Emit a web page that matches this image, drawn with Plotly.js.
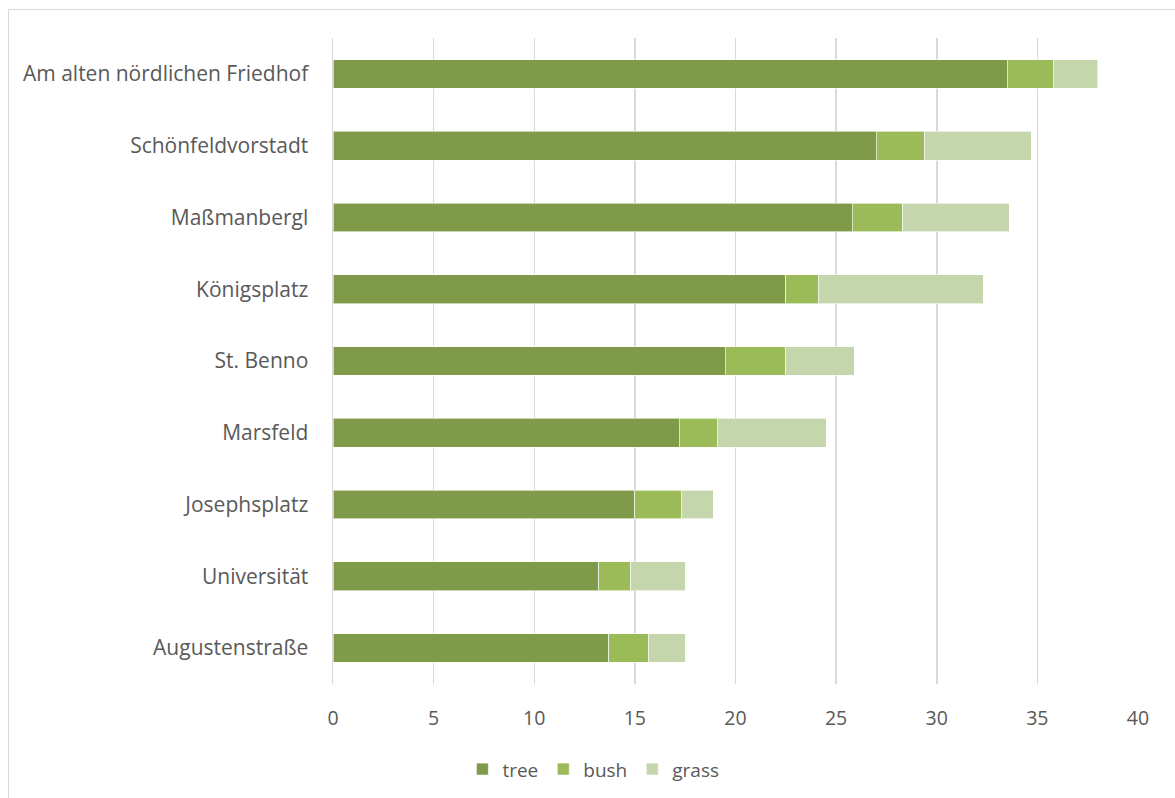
<!DOCTYPE html>
<html>
<head>
<meta charset="utf-8">
<script src="https://cdn.plot.ly/plotly-3.0.1.min.js"></script>
<style>
html,body{margin:0;padding:0;background:#fff;overflow:hidden;}
#frame{position:absolute;left:8px;top:9px;width:1200px;height:820px;border:1.5px solid #d9d9d9;box-sizing:border-box;pointer-events:none;z-index:5;}
#chart{position:absolute;left:0;top:0;width:1175px;height:798px;}
</style>
</head>
<body>
<div id="chart"></div>
<div id="frame"></div>
<script>
const categories = ["Am alten nördlichen Friedhof","Schönfeldvorstadt","Maßmanbergl","Königsplatz","St. Benno","Marsfeld","Josephsplatz","Universität","Augustenstraße"];
const tree  = [33.5, 27.0, 25.8, 22.5, 19.5, 17.2, 15.0, 13.2, 13.7];
const bush  = [2.3, 2.4, 2.5, 1.6, 3.0, 1.9, 2.3, 1.6, 2.0];
const grass = [2.2, 5.3, 5.3, 8.2, 3.4, 5.4, 1.6, 2.7, 1.8];
const seriesNames = ["tree","bush","grass"];
const tickVals = [0,5,10,15,20,25,30,35,40];

const colors = ["#7f9a48","#9bbb59","#c6d6ac"];
const values = [tree, bush, grass];
const font = "'Open Sans', Lato, sans-serif";

const data = values.map((v,i)=>({
  type:"bar", orientation:"h", name:seriesNames[i],
  y:categories, x:v,
  marker:{color:colors[i], line:{color:"rgba(255,255,255,0.6)", width:1}},
  hoverinfo:"x+name"
}));

const layout = {
  width:1175, height:798,
  margin:{l:333, r:37, t:38, b:114},
  barmode:"stack",
  bargap:0.6,
  paper_bgcolor:"#fff", plot_bgcolor:"#fff",
  font:{family:font, color:"#595959", size:19},
  xaxis:{range:[0,40], tickvals:tickVals, ticktext:tickVals.map(String),
    showgrid:true, gridcolor:"#d9d9d9", gridwidth:1.5, zeroline:false,
    showline:false, ticks:"", ticklabelstandoff:20,
    tickfont:{family:font, size:19.5, color:"#595959"}, fixedrange:true},
  yaxis:{autorange:"reversed", showgrid:false, zeroline:false,
    showline:true, linecolor:"#d9d9d9", linewidth:1.5, ticks:"",
    ticklabelstandoff:19,
    tickfont:{family:font, size:21, color:"#595959"}, fixedrange:true},
  legend:{orientation:"h", xref:"container", yref:"container", x:0.505, xanchor:"center", y:0.036, yanchor:"middle",
    font:{family:font, size:19, color:"#595959"}, itemwidth:30, traceorder:"normal"},
  showlegend:true
};

Plotly.newPlot("chart", data, layout, {displayModeBar:false, staticPlot:true});
</script>
</body>
</html>
